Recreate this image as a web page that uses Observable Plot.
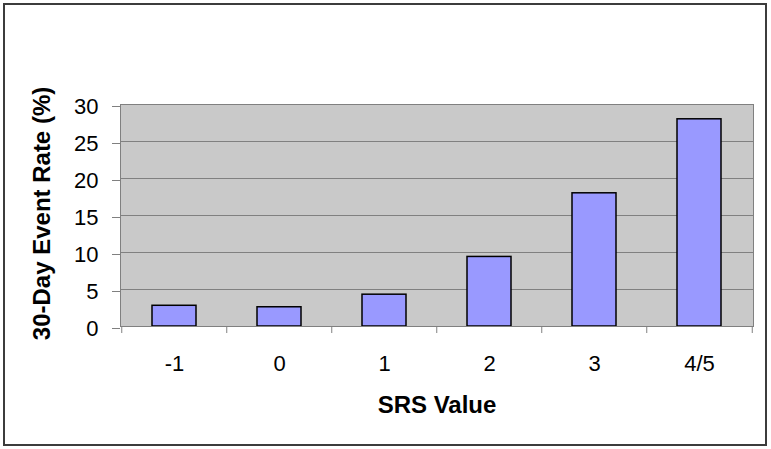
<!DOCTYPE html>
<html>
<head>
<meta charset="utf-8">
<script src="https://cdn.jsdelivr.net/npm/d3@7"></script>
<script src="https://cdn.jsdelivr.net/npm/@observablehq/plot@0.6"></script>
<style>
  html, body { margin: 0; padding: 0; background: #fff; }
  #wrap { position: relative; width: 771px; height: 449px; }
  #border { position: absolute; left: 3px; top: 3px; width: 764px; height: 443px;
            border: 2px solid #3c3c3c; box-sizing: border-box; pointer-events: none; }
  svg { display: block; font-family: "Liberation Sans", Arial, sans-serif; }
</style>
</head>
<body>
<div id="wrap"><div id="border"></div></div>
<script>
const categories = ["-1", "0", "1", "2", "3", "4/5"];
const rates = [2.8, 2.6, 4.3, 9.4, 18.0, 28.0];
const yTicks = [0, 5, 10, 15, 20, 25, 30];
const yLabel = "30-Day Event Rate (%)";
const xLabel = "SRS Value";

const data = categories.map((c, i) => ({srs: c, rate: rates[i]}));

const W = 771, H = 449;
const mL = 120, mR = 18, mT = 104, mB = 123;
const plotW = W - mL - mR, plotH = H - mT - mB;
const step = plotW / categories.length;
const gray = "#808080";

const chart = Plot.plot({
  width: W,
  height: H,
  marginLeft: mL, marginRight: mR, marginTop: mT, marginBottom: mB,
  style: {fontFamily: "'Liberation Sans', Arial, sans-serif", color: "#000", background: "transparent"},
  x: {type: "band", domain: categories, paddingInner: 0.58, paddingOuter: 0.29, label: null},
  y: {domain: [0, 30], label: null},
  marks: [
    Plot.frame({fill: "#c9c9c9", stroke: "none"}),
    Plot.gridY(yTicks, {stroke: gray, strokeOpacity: 1, strokeWidth: 1}),
    Plot.barY(data, {x: "srs", y: "rate", fill: "#9999ff", stroke: "#000", strokeWidth: 1.5}),
    Plot.frame({stroke: gray, strokeWidth: 1}),
    Plot.axisY(yTicks, {tickSize: 8, tickPadding: 14, fontSize: 22, stroke: gray, label: null, dy: 2}),
    Plot.axisX({tickSize: 0, tickPadding: 29, fontSize: 22, label: null}),
    Plot.ruleX(categories, {x: d => d, dx: -step / 2, stroke: gray, insetTop: plotH, insetBottom: -7}),
    Plot.ruleX(categories.slice(-1), {x: d => d, dx: step / 2, stroke: gray, insetTop: plotH, insetBottom: -7}),
    Plot.text([yLabel], {frameAnchor: "left", textAnchor: "middle", lineAnchor: "middle", rotate: -90, dx: -78, dy: -2, fontSize: 24, fontWeight: "bold", fill: "#000"}),
    Plot.text([xLabel], {frameAnchor: "bottom", textAnchor: "middle", lineAnchor: "middle", dy: 79, fontSize: 24, fontWeight: "bold", fill: "#000"})
  ]
});
document.getElementById("wrap").prepend(chart);
</script>
</body>
</html>
